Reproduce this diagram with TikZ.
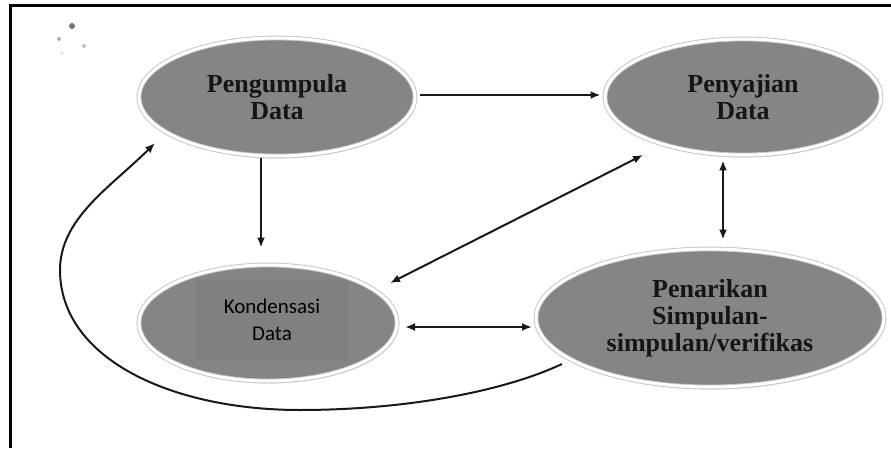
\documentclass[tikz,border=0pt]{standalone}
\usepackage{fontspec}
\setmainfont{Liberation Serif}
\newfontfamily\calibri{Carlito}
\usetikzlibrary{shapes.geometric,shadows,arrows.meta}
\definecolor{ellgray}{HTML}{858585}
\definecolor{boxgray}{HTML}{808080}
\definecolor{rimgray}{HTML}{C4C4C4}
\definecolor{txt}{HTML}{151515}
\tikzset{
  stage/.style={ellipse, fill=ellgray, draw=rimgray, double=white, double distance=3pt, line width=0.9pt,
    inner sep=0pt, align=center, text=txt,
    font=\bfseries\fontsize{26}{27}\selectfont,
    drop shadow={opacity=0.25, shadow xshift=1.5pt, shadow yshift=-2.5pt}},
  arr/.style={draw=black!90, line width=2pt, -{Latex[length=10pt,width=8pt]}},
  barr/.style={draw=black!90, line width=2pt, {Latex[length=10pt,width=8pt]}-{Latex[length=10pt,width=8pt]}},
  frame/.style={draw=black, line width=3pt},
  speck/.style={fill=black, draw=none}
}
\begin{document}
\begin{tikzpicture}[x=1pt,y=1pt]
\useasboundingbox (0,0) rectangle (891,448);
\fill[white] (0,0) rectangle (891,448);
% frame
\draw[frame] (10,0) -- (10,442) -- (891,442);
% specks
\fill[speck, opacity=0.55] (72,422) circle (3);
\fill[speck, opacity=0.3] (59,409) circle (2);
\fill[speck, opacity=0.25] (84,402) circle (2);
\fill[speck, opacity=0.12] (62,395) circle (1.8);
% nodes
\node[stage, minimum width=276, minimum height=118] (P1) at (277,351) {Pengumpula\\Data};
\node[stage, minimum width=276, minimum height=116] (P2) at (743,351) {Penyajian\\Data};
\node[stage, minimum width=258, minimum height=116] (K) at (268,125) {};
\node[rectangle, fill=boxgray, minimum width=152, minimum height=80, inner sep=0pt, align=center,
      font=\calibri\fontsize{21}{27}\selectfont] (Kt) at (272,128) {Kondensasi\\Data};
\node[stage, minimum width=348, minimum height=138] (P3) at (710,130) {Penarikan\\Simpulan-\\simpulan/verifikas};
% connectors
\draw[arr] ([yshift=2pt,xshift=5pt]P1.east) -- ([yshift=2pt,xshift=-4pt]P2.west);
\draw[arr] ([xshift=-16pt,yshift=-2pt]P1.south) -- ([xshift=-7pt,yshift=17pt]K.north);
\draw[barr] ([xshift=-20pt,yshift=-5pt]P2.south) -- ([xshift=13pt,yshift=9pt]P3.north);
\draw[barr] ([shift={(122,40)}]K.center) -- ([shift={(-100,-58)}]P2.center);
\draw[barr] ([shift={(137,-4)}]K.center) -- ([shift={(-178,-9)}]P3.center);
\draw[arr] ([shift={(-148,-46)}]P3.center) .. controls (500,55) and (400,38) .. (300,38)
   .. controls (170,38) and (60,90) .. (60,178)
   .. controls (60,230) and (112,262) .. ([shift={(-122,-46)}]P1.center);
\end{tikzpicture}
\end{document}
